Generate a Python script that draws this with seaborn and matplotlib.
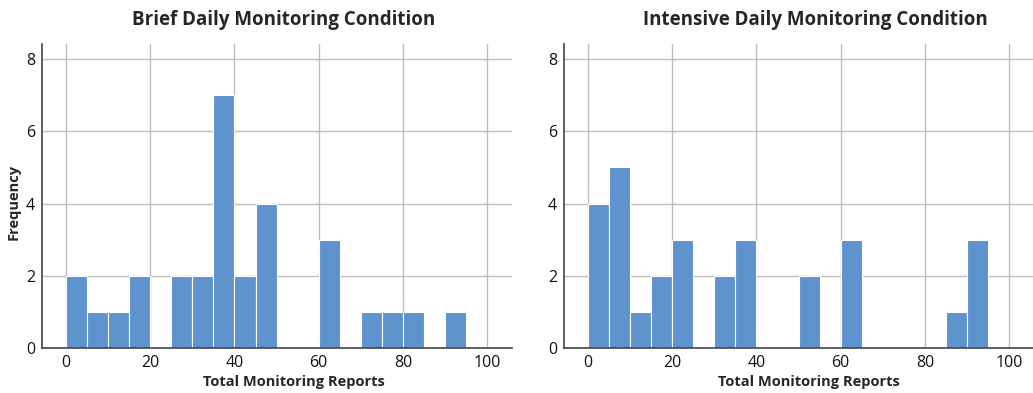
import numpy as np
import pandas as pd
import matplotlib
matplotlib.use("Agg")
import matplotlib.pyplot as plt
import seaborn as sns

# Bin edges (width 5, 0..100) and counts
bin_edges = list(range(0, 105, 5))
bin_centers = [e + 2.5 for e in bin_edges[:-1]]
brief_counts = [2, 1, 1, 2, 0, 2, 2, 7, 2, 4, 0, 0, 3, 0, 1, 1, 1, 0, 1, 0]
intensive_counts = [4, 5, 1, 2, 3, 0, 2, 3, 0, 0, 2, 0, 3, 0, 0, 0, 0, 1, 3, 0]
titles = ["Brief Daily Monitoring Condition", "Intensive Daily Monitoring Condition"]
x_label = "Total Monitoring Reports"
y_label = "Frequency"
x_ticks = [0, 20, 40, 60, 80, 100]
y_ticks = [0, 2, 4, 6, 8]

sns.set_style("white")
plt.rcParams['font.family'] = ['Open Sans', 'DejaVu Sans']

bar_color = "#5E93CE"
grid_color = "#BDBDBD"
spine_color = "#444444"

fig = plt.figure(figsize=(10.33, 3.93), dpi=100)
ax1 = fig.add_axes([42/1033, 1-348/393, 470/1033, (348-44)/393])
ax2 = fig.add_axes([564/1033, 1-348/393, 470/1033, (348-44)/393])

for ax, counts, title, tx, lx in [(ax1, brief_counts, titles[0], 0.515, 0.535),
                                  (ax2, intensive_counts, titles[1], 0.534, 0.52)]:
    df = pd.DataFrame({"x": bin_centers, "w": counts})
    sns.histplot(data=df, x="x", weights="w", bins=bin_edges, ax=ax,
                 color=bar_color, alpha=1, edgecolor="white", linewidth=0.8)
    ax.set_xlim(-5.7, 105.9)
    ax.set_ylim(0, 8.42)
    ax.set_xticks(x_ticks)
    ax.set_yticks(y_ticks)
    ax.grid(True, color=grid_color, linewidth=1)
    ax.set_axisbelow(True)
    for s in ["top", "right"]:
        ax.spines[s].set_visible(False)
    for s in ["left", "bottom"]:
        ax.spines[s].set_color(spine_color)
        ax.spines[s].set_linewidth(1.2)
    ax.tick_params(axis="both", length=0, labelsize=11.5, colors="#111111", pad=5)
    ax.set_title(title, fontsize=13.5, fontweight="bold", x=tx, pad=14)
    ax.set_xlabel(x_label, fontsize=10.5, fontweight="bold")
    ax.xaxis.set_label_coords(lx, -0.09)
    ax.set_ylabel("")

ax1.set_ylabel(y_label, fontsize=10.5, fontweight="bold")
ax1.yaxis.set_label_coords(-0.045, 0.48)

fig.savefig("out.png", dpi=100)
